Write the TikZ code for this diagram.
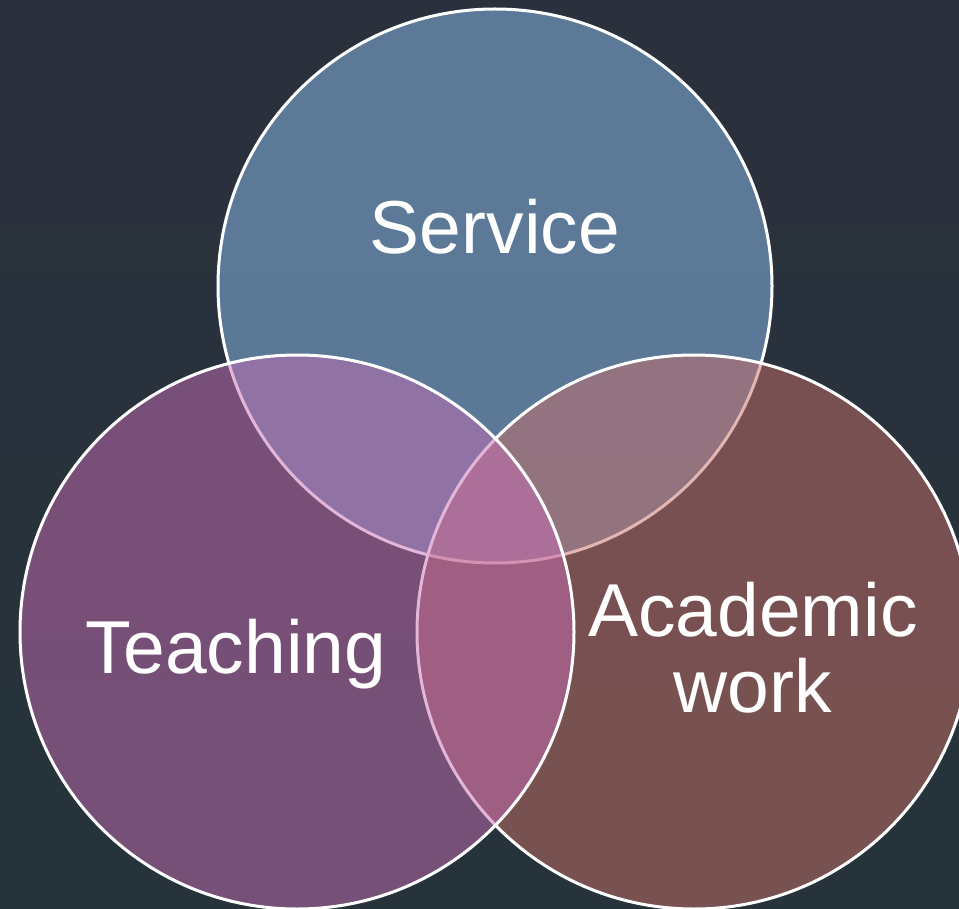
\documentclass[tikz,border=0pt]{standalone}
\usepackage{fontspec}
\setmainfont{Liberation Sans}
\definecolor{bgtop}{RGB}{43,49,60}
\definecolor{bgbot}{RGB}{38,51,59}
\definecolor{cservice}{RGB}{142,193,242}
\definecolor{cacad}{RGB}{202,111,104}
\definecolor{cteach}{RGB}{198,109,180}
\tikzset{
  venn/.style={circle, minimum size=554pt, inner sep=0pt, draw=white, line width=3pt, fill opacity=0.5, draw opacity=1},
  lbl/.style={text=white, font=\fontsize{75}{76}\selectfont, anchor=base, align=center}
}
\begin{document}
\begin{tikzpicture}[x=1pt,y=-1pt]
\useasboundingbox (0,0) rectangle (959,909);
\clip (0,0) rectangle (959,909);
\shade[top color=bgtop, bottom color=bgbot] (0,0) rectangle (959,909);
\node[venn, fill=cservice] (service) at (495,286) {};
\node[venn, fill=cacad] (acad) at (694,632) {};
\node[venn, fill=cteach] (teach) at (297,632) {};
\node[lbl] (tservice) at (495,254) {Service};
\node[lbl] (tteach) at (236,673) {Teaching};
\node[lbl] (tacad1) at (753,636) {Academic};
\node[lbl] (tacad2) at (753,712) {work};
\end{tikzpicture}
\end{document}
